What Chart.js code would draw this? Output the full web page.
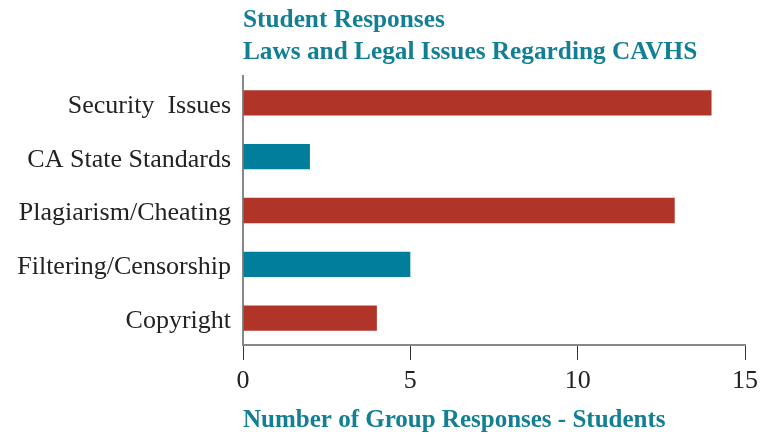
<!DOCTYPE html>
<html>
<head>
<meta charset="utf-8">
<script src="https://cdn.jsdelivr.net/npm/chart.js@4"></script>
<style>
  html, body { margin: 0; padding: 0; background: #fff; }
  #wrap { width: 760px; height: 437px; }
</style>
</head>
<body>
<div id="wrap"><canvas id="chart" width="760" height="437"></canvas></div>
<script>
const categories = ["Security  Issues", "CA State Standards", "Plagiarism/Cheating", "Filtering/Censorship", "Copyright"];
const responses = [14, 2, 12.9, 5, 4];
const barColors = ["#b13428", "#007e9c", "#b13428", "#007e9c", "#b13428"];
const titleLines = ["Student Responses", "Laws and Legal Issues Regarding CAVHS"];
const xTitle = "Number of Group Responses - Students";

const teal = "#127f94";
const serif = "'Liberation Serif', 'Times New Roman', serif";

const titlePlugin = {
  id: "leftTitle",
  afterDraw(chart) {
    const ctx = chart.ctx;
    ctx.save();
    ctx.fillStyle = teal;
    ctx.font = "bold 25.3px " + serif;
    ctx.textAlign = "left";
    ctx.textBaseline = "alphabetic";
    ctx.fillText(titleLines[0], chart.chartArea.left, 27);
    ctx.fillText(titleLines[1], chart.chartArea.left, 59);
    ctx.restore();
  }
};

new Chart(document.getElementById("chart"), {
  type: "bar",
  data: {
    labels: categories,
    datasets: [{
      data: responses,
      backgroundColor: barColors,
      categoryPercentage: 1,
      barPercentage: 0.47
    }]
  },
  plugins: [titlePlugin],
  options: {
    indexAxis: "y",
    responsive: false,
    animation: false,
    layout: { padding: { top: 76, right: 15, bottom: 0, left: 0 } },
    plugins: { legend: { display: false }, tooltip: { enabled: false } },
    scales: {
      x: {
        min: 0,
        max: 15,
        ticks: { stepSize: 5, color: "#222", font: { family: serif, size: 26 }, padding: 6 },
        grid: { drawOnChartArea: false, drawTicks: true, tickLength: 15, color: "#333" },
        border: { color: "#888", width: 2 },
        title: {
          display: true,
          text: xTitle,
          align: "start",
          color: teal,
          font: { family: serif, size: 25, weight: "bold" },
          padding: { top: 0, bottom: 1 }
        },
        afterFit(scale) {
          scale.height = 92;
          scale.paddingRight = 0;
          scale.paddingLeft = 0;
        }
      },
      y: {
        ticks: { color: "#222", font: { family: serif, size: 26 }, padding: 12, labelOffset: 3 },
        grid: { drawOnChartArea: false, drawTicks: false },
        border: { color: "#888", width: 2 },
        afterFit(scale) { scale.width = 243; }
      }
    }
  }
});
</script>
</body>
</html>
